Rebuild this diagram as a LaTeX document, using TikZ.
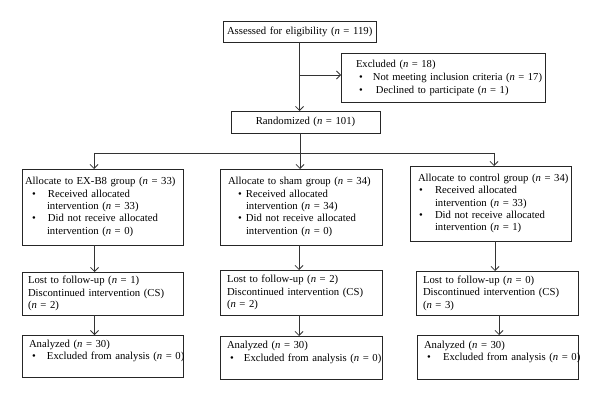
\documentclass[tikz,border=0pt]{standalone}
\usepackage{fontspec}
\setmainfont{Liberation Serif}
\usetikzlibrary{arrows.meta}
\newcommand{\bl}[2]{\makebox[#2][l]{\hspace*{#1}\textbullet}}
\newcommand{\nn}{\textit{n}}
\begin{document}
\begin{tikzpicture}[x=1pt,y=-1pt,
  bx/.style={draw=black!85, line width=0.75pt, outer sep=0pt, anchor=north west, align=left,
    inner ysep=0pt, font=\fontsize{10.7}{12.4}\selectfont},
  arr/.style={draw=black!80, line width=0.75pt, -{Straight Barb[length=4pt,width=8pt]}},
  ln/.style={draw=black!80, line width=0.75pt}]
\useasboundingbox (0,0) rectangle (600,401);
\fill[white] (0,0) rectangle (600,401);

% top
\node[bx, minimum height=21pt, inner xsep=4pt, text width=145pt] (assess) at (223,21)
  {\mbox{Assessed for eligibility (\nn{} = 119)}};
\node[bx, minimum height=49pt, inner xsep=15pt, text width=174pt, font=\fontsize{10.6}{13}\selectfont] (excl) at (341,53)
  {\mbox{Excluded (\nn{} = 18)}\\
   \mbox{\bl{3pt}{17pt}Not meeting inclusion criteria (\nn{} = 17)}\\
   \mbox{\bl{3pt}{20pt}Declined to participate (\nn{} = 1)}};
\node[bx, align=center, minimum height=22pt, inner xsep=4pt, text width=141pt] (rand) at (231,111)
  {Randomized (\nn{} = 101)};

% allocation
\node[bx, minimum height=76pt, inner xsep=3pt, text width=155pt] (ea) at (22,169)
  {\mbox{Allocate to EX-B8 group (\nn{} = 33)}\\
   \mbox{\bl{7pt}{23pt}Received allocated}\\
   \mbox{\hspace*{22pt}intervention (\nn{} = 33)}\\
   \mbox{\bl{7pt}{23pt}Did not receive allocated}\\
   \mbox{\hspace*{22pt}intervention (\nn{} = 0)}};
\node[bx, minimum height=76pt, inner xsep=8pt, text width=146pt] (sa) at (220,169)
  {\mbox{Allocate to sham group (\nn{} = 34)}\\
   \mbox{\bl{10pt}{18pt}Received allocated}\\
   \mbox{\hspace*{18pt}intervention (\nn{} = 34)}\\
   \mbox{\bl{10pt}{18pt}Did not receive allocated}\\
   \mbox{\hspace*{18pt}intervention (\nn{} = 0)}};
\node[bx, minimum height=75pt, inner xsep=8pt, text width=145pt] (ca) at (410,166)
  {\mbox{Allocate to control group (\nn{} = 34)}\\
   \mbox{\bl{1pt}{17pt}Received allocated}\\
   \mbox{\hspace*{17pt}intervention (\nn{} = 33)}\\
   \mbox{\bl{1pt}{17pt}Did not receive allocated}\\
   \mbox{\hspace*{17pt}intervention (\nn{} = 1)}};

% follow-up
\node[bx, minimum height=43pt, inner xsep=6pt, text width=149pt] (el) at (22,272)
  {\mbox{Lost to follow-up (\nn{} = 1)}\\
   \mbox{Discontinued intervention (CS)}\\
   \mbox{(\nn{} = 2)}};
\node[bx, minimum height=45pt, inner xsep=7pt, text width=148pt] (sl) at (220,270)
  {\mbox{Lost to follow-up (\nn{} = 2)}\\
   \mbox{Discontinued intervention (CS)}\\
   \mbox{(\nn{} = 2)}};
\node[bx, minimum height=44pt, inner xsep=7pt, text width=148pt] (cl) at (416,271)
  {\mbox{Lost to follow-up (\nn{} = 0)}\\
   \mbox{Discontinued intervention (CS)}\\
   \mbox{(\nn{} = 3)}};

% analysis
\node[bx, minimum height=42pt, inner xsep=7pt, text width=147pt] (ean) at (22,335)
  {\mbox{Analyzed (\nn{} = 30)}\\
   \mbox{\bl{3pt}{18pt}Excluded from analysis (\nn{} = 0)}\\
   \mbox{}};
\node[bx, minimum height=43pt, inner xsep=7pt, text width=148pt] (san) at (220,336)
  {\mbox{Analyzed (\nn{} = 30)}\\
   \mbox{\bl{3pt}{17pt}Excluded from analysis (\nn{} = 0)}\\
   \mbox{}};
\node[bx, minimum height=44pt, inner xsep=7pt, text width=147pt] (can) at (417,335)
  {\mbox{Analyzed (\nn{} = 30)}\\
   \mbox{\bl{3pt}{19pt}Excluded from analysis (\nn{} = 0)}\\
   \mbox{}};

% connectors
\draw[arr] (assess.south) -- (assess.south |- rand.north);
\coordinate (br) at (299.5,75);
\draw[arr] (br) -- (br -| excl.west);

\coordinate (hl) at (94,153);
\coordinate (hm) at (300,153);
\coordinate (hr) at (494,153);
\draw[ln] (hm |- rand.south) -- (hm);
\draw[ln] (hl) -- (hr);
\draw[arr] (hl) -- (hl |- ea.north);
\draw[arr] (hm) -- (hm |- sa.north);
\draw[arr] (hr) -- (hr |- ca.north);

\coordinate (vl) at (94.5,0);
\coordinate (vm) at (299,0);
\coordinate (vr1) at (495,0);
\coordinate (vr2) at (499,0);
\draw[arr] (vl |- ea.south) -- (vl |- el.north);
\draw[arr] (vm |- sa.south) -- (vm |- sl.north);
\draw[arr] (vr1 |- ca.south) -- (vr1 |- cl.north);
\draw[arr] (vl |- el.south) -- (vl |- ean.north);
\draw[arr] (vm |- sl.south) -- (vm |- san.north);
\draw[arr] (vr2 |- cl.south) -- (vr2 |- can.north);
\end{tikzpicture}
\end{document}
